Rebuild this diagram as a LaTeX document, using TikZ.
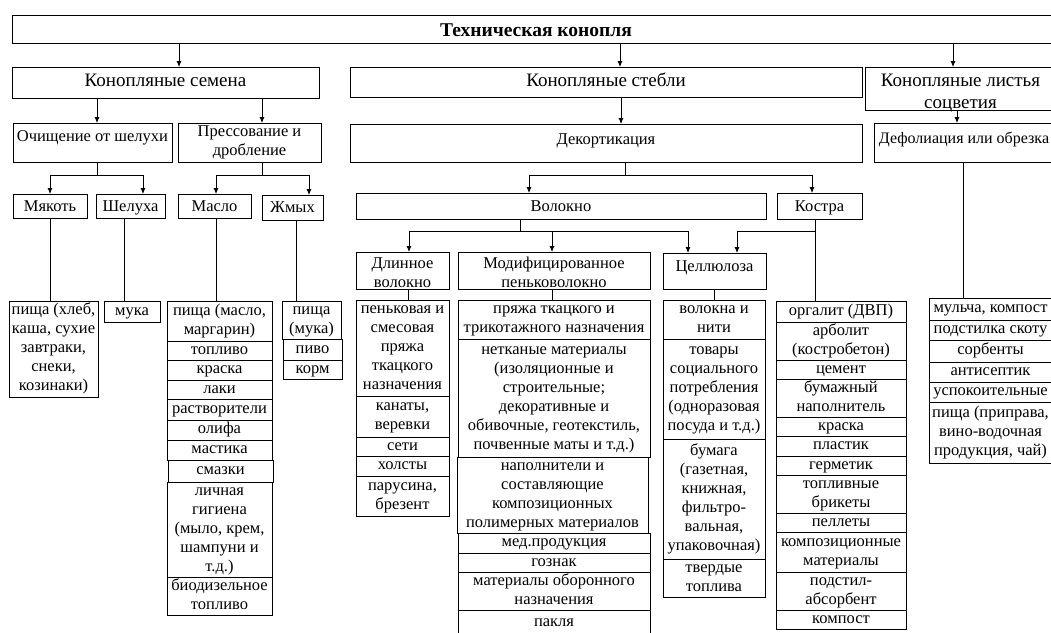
\documentclass[tikz,border=0pt]{standalone}
\usepackage{fontspec}
\setmainfont{Liberation Serif}
\usetikzlibrary{arrows.meta}

\begin{document}
\begin{tikzpicture}[x=1pt, y=-1pt, line width=0.8pt,
  >={Latex[length=6pt,width=5pt]},
  box/.style={draw, anchor=north west, inner sep=0pt, outer sep=0pt, align=flush center,
    font=\fontsize{16.5}{19}\selectfont, execute at begin node=\strut, execute at end node=\strut},
  wd/.style={minimum width=#1, text width=#1},
  lvl/.style={box, text depth=3pt},
  big/.style={box, font=\fontsize{19}{22}\selectfont}]
  \useasboundingbox (0,0) rectangle (1051,632);

  % top levels
  \node[box, wd=1048, minimum height=28, text depth=0pt, font=\bfseries\fontsize{19.5}{22}\selectfont] (title) at (12,15) {Техническая конопля};
  \node[big, wd=307, minimum height=31] (semena) at (12,67) {Конопляные семена};
  \node[big, wd=512, minimum height=30] (stebli) at (350,67) {Конопляные стебли};
  \node[big, wd=191, minimum height=43, text height=18pt, text depth=23pt] (listya) at (865,67) {Конопляные листья\\соцветия};

  \node[box, wd=159, minimum height=39, text depth=15.3pt] (och) at (13,123) {Очищение от шелухи};
  \node[box, wd=143, minimum height=39] (press) at (178,123) {Прессование и\\дробление};
  \node[box, wd=512, minimum height=38, text depth=11pt] (dekort) at (350,124) {Декортикация};
  \node[box, wd=180, minimum height=39, text depth=12.3pt, font=\fontsize{16}{19}\selectfont] (defol) at (874,123) {Дефолиация или обрезка};

  \node[lvl, wd=74, minimum height=24] (myak) at (13,194) {Мякоть};
  \node[lvl, wd=69, minimum height=24] (shel) at (96,194) {Шелуха};
  \node[lvl, wd=73, minimum height=24] (maslo) at (178,194) {Масло};
  \node[lvl, wd=61, minimum height=25] (zhmyh) at (262,195) {Жмых};
  \node[lvl, wd=410, minimum height=26] (volokno) at (356,193) {Волокно};
  \node[lvl, wd=85, minimum height=26] (kostra) at (777,193) {Костра};

  \node[box, wd=93, minimum height=37, text height=16pt, text depth=21pt] (dlin) at (356,252) {Длинное\\волокно};
  \node[box, wd=192, minimum height=37, text height=16pt, text depth=21pt] (modif) at (458,252) {Модифицированное\\пеньковолокно};
  \node[box, wd=103, minimum height=36, text depth=13.3pt] (cell) at (663,253) {Целлюлоза};

  % seeds
  \node[box, wd=89, minimum height=96] (m1) at (9,301) {пища (хлеб,\\каша, сухие\\завтраки,\\снеки,\\козинаки)};
  \node[box, wd=56, minimum height=21] (s1) at (104,301) {мука};

  \node[box, wd=105, minimum height=40] (ma1) at (167,301) {пища (масло,\\маргарин)};
  \node[box, wd=105, minimum height=19] (ma2) at (167,341) {топливо};
  \node[box, wd=105, minimum height=20] (ma3) at (167,360) {краска};
  \node[box, wd=105, minimum height=19] (ma4) at (167,380) {лаки};
  \node[box, wd=105, minimum height=21] (ma5) at (167,399) {растворители};
  \node[box, wd=105, minimum height=20] (ma6) at (167,420) {олифа};
  \node[box, wd=105, minimum height=20] (ma7) at (167,440) {мастика};
  \node[box, wd=105, minimum height=22] (ma8) at (168,460) {смазки};
  \node[box, wd=105, minimum height=95] (ma9) at (167,482) {личная\\гигиена\\(мыло, крем,\\шампуни и\\т.д.)};
  \node[box, wd=105, minimum height=36] (ma10) at (167,577) {биодизельное\\топливо};

  \node[box, wd=59, minimum height=38] (zh1) at (282,301) {пища\\(мука)};
  \node[box, wd=59, minimum height=21] (zh2) at (283,339) {пиво};
  \node[box, wd=59, minimum height=18] (zh3) at (283,360) {корм};

  % fibre
  \node[box, wd=93, minimum height=96] (d1) at (356,300) {пеньковая и\\смесовая\\пряжа\\ткацкого\\назначения};
  \node[box, wd=93, minimum height=41] (d2) at (356,396) {канаты,\\веревки};
  \node[box, wd=93, minimum height=19] (d3) at (356,437) {сети};
  \node[box, wd=93, minimum height=20] (d4) at (356,456) {холсты};
  \node[box, wd=93, minimum height=40] (d5) at (356,476) {парусина,\\брезент};

  \node[box, wd=192, minimum height=39] (mo1) at (458,300) {пряжа ткацкого и\\трикотажного назначения};
  \node[box, wd=192, minimum height=118] (mo2) at (458,339) {нетканые материалы\\(изоляционные и\\строительные;\\декоративные и\\обивочные, геотекстиль,\\почвенные маты и т.д.)};
  \node[box, wd=191, minimum height=76] (mo3) at (457,457) {наполнители и\\составляющие\\композиционных\\полимерных материалов};
  \node[box, wd=192, minimum height=20] (mo4) at (458,533) {мед.продукция};
  \node[box, wd=192, minimum height=19] (mo5) at (458,553) {гознак};
  \node[box, wd=192, minimum height=38] (mo6) at (458,572) {материалы оборонного\\назначения};
  \node[box, wd=192, minimum height=25] (mo7) at (458,610) {пакля};

  \node[box, wd=102, minimum height=39] (c1) at (663,300) {волокна и\\нити};
  \node[box, wd=102, minimum height=100] (c2) at (663,339) {товары\\социального\\потребления\\(одноразовая\\посуда и т.д.)};
  \node[box, wd=102, minimum height=120] (c3) at (663,439) {бумага\\(газетная,\\книжная,\\фильтро-\\вальная,\\упаковочная)};
  \node[box, wd=102, minimum height=38] (c4) at (663,559) {твердые\\топлива};

  % shives
  \node[box, wd=130, minimum height=21] (k1) at (776,301) {оргалит (ДВП)};
  \node[box, wd=130, minimum height=38] (k2) at (776,322) {арболит\\(костробетон)};
  \node[box, wd=130, minimum height=19] (k3) at (776,360) {цемент};
  \node[box, wd=130, minimum height=38] (k4) at (776,379) {бумажный\\наполнитель};
  \node[box, wd=130, minimum height=19] (k5) at (776,417) {краска};
  \node[box, wd=130, minimum height=20] (k6) at (776,436) {пластик};
  \node[box, wd=130, minimum height=19] (k7) at (776,456) {герметик};
  \node[box, wd=130, minimum height=38] (k8) at (776,475) {топливные\\брикеты};
  \node[box, wd=130, minimum height=19] (k9) at (776,513) {пеллеты};
  \node[box, wd=130, minimum height=40] (k10) at (776,532) {композиционные\\материалы};
  \node[box, wd=130, minimum height=38] (k11) at (776,572) {подстил-\\абсорбент};
  \node[box, wd=130, minimum height=19] (k12) at (776,610) {компост};

  % leaves
  \node[box, wd=123, minimum height=22] (l1) at (929,298) {мульча, компост};
  \node[box, wd=123, minimum height=20] (l2) at (929,320) {подстилка скоту};
  \node[box, wd=123, minimum height=22] (l3) at (929,340) {сорбенты};
  \node[box, wd=123, minimum height=20] (l4) at (929,362) {антисептик};
  \node[box, wd=123, minimum height=20] (l5) at (929,382) {успокоительные};
  \node[box, wd=123, minimum height=61] (l6) at (929,402) {пища (приправа,\\вино-водочная\\продукция, чай)};

  \draw[->] (title.south -| 179,0) -- (semena.north -| 179,0);
  \draw[->] (title.south -| 620,0) -- (stebli.north -| 620,0);
  \draw[->] (title.south -| 953,0) -- (listya.north -| 953,0);
  \draw[->] (semena.south -| 97,0) -- (och.north -| 97,0);
  \draw[->] (semena.south -| 262,0) -- (press.north -| 262,0);
  \draw[->] (stebli.south -| 621,0) -- (dekort.north -| 621,0);
  \draw[->] (listya.south -| 957,0) -- (defol.north -| 957,0);

  \draw[->] (och.south -| 97,0) -- ++(0,13) -| (myak.north -| 50,0);
  \draw[->] (och.south -| 97,0) -- ++(0,13) -| (shel.north -| 143,0);
  \draw[->] (press.south -| 262,0) -- ++(0,13) -| (maslo.north -| 216,0);
  \draw[->] (press.south -| 262,0) -- ++(0,13) -| (zhmyh.north -| 309,0);
  \draw[->] (dekort.south -| 625,0) -- ++(0,13) -| (volokno.north -| 529,0);
  \draw[->] (dekort.south -| 625,0) -- ++(0,13) -| (kostra.north -| 812,0);
  \draw[->] (volokno.south -| 520,0) -- ++(0,12) -| (dlin.north -| 409,0);
  \draw[->] (volokno.south -| 520,0) -- ++(0,12) -| (modif.north -| 552,0);
  \draw[->] (volokno.south -| 520,0) -- ++(0,12) -| (cell.north -| 688,0);
  \draw[->] (kostra.south -| 815,0) -- ++(0,12) -| (cell.north -| 737,0);

  \draw (myak.south -| 50,0) -- (m1.north -| 50,0);
  \draw (shel.south -| 124,0) -- (s1.north -| 124,0);
  \draw (maslo.south -| 216,0) -- (ma1.north -| 216,0);
  \draw (zhmyh.south -| 296,0) -- (zh1.north -| 296,0);
  \draw (dlin.south -| 408,0) -- (d1.north -| 408,0);
  \draw (modif.south -| 552,0) -- (mo1.north -| 552,0);
  \draw (cell.south -| 714,0) -- (c1.north -| 714,0);
  \draw (kostra.south -| 815,0) -- (k1.north -| 815,0);
  \draw (defol.south -| 963,0) -- (l1.north -| 963,0);
\end{tikzpicture}
\end{document}
